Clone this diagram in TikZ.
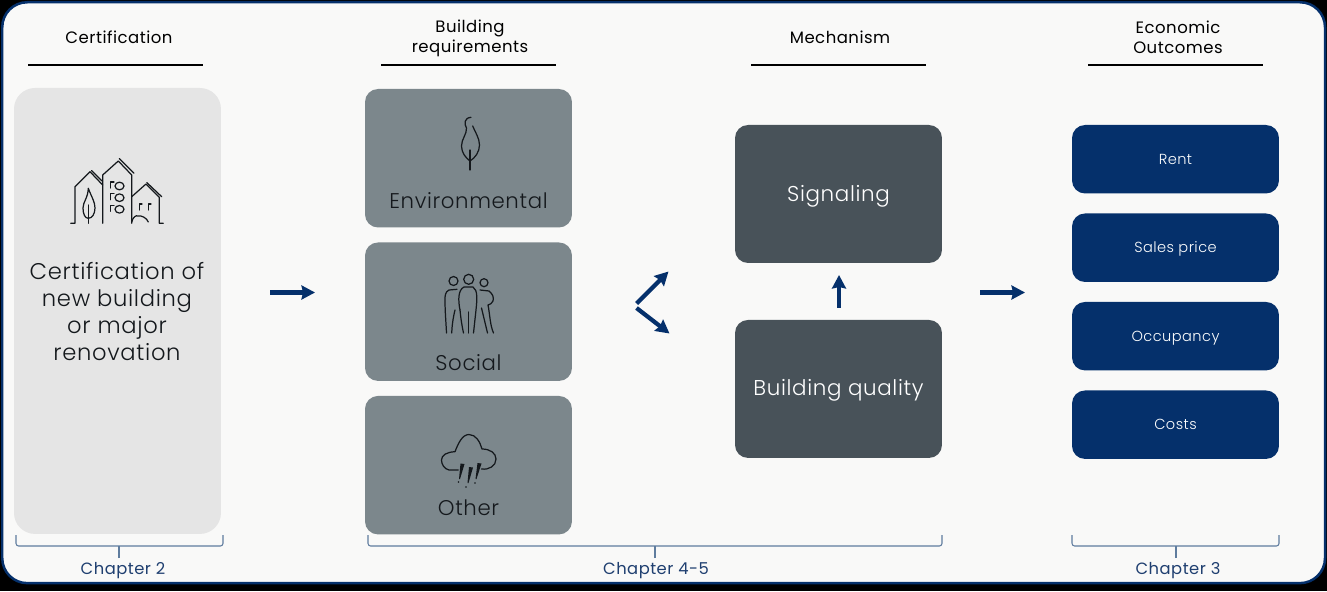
\documentclass[tikz,border=0pt]{standalone}
\usepackage{fontspec}
\setmainfont[UprightFont=* Light, LetterSpace=3]{Poppins}
\newfontfamily\headfont[LetterSpace=3]{Poppins}
\usetikzlibrary{
  arrows.meta,
  positioning,
  calc
}
\definecolor{panelwhite}{HTML}{F9F9F8}
\definecolor{certgray}{HTML}{E5E5E5}
\definecolor{reqgray}{HTML}{7C878C}
\definecolor{mechgray}{HTML}{485259}
\definecolor{navyblue}{HTML}{05306B}
\definecolor{bracketblue}{HTML}{5F7C9E}
\definecolor{chaptertext}{HTML}{1F3F70}
\definecolor{icontext}{HTML}{14181C}

\begin{document}
\begin{tikzpicture}[
    x=0.02cm, y=-0.02cm,
    box/.style={rectangle, rounded corners=0.26cm, minimum width=4.14cm, align=center, inner sep=0pt, outer sep=0pt},
    certblock/.style={box, fill=certgray, rounded corners=0.42cm, minimum height=8.92cm},
    reqblock/.style={box, fill=reqgray, minimum height=2.77cm},
    mechblock/.style={box, fill=mechgray, minimum height=2.76cm, text=white, font=\fontsize{12.2}{14}\selectfont, text height=8pt, text depth=0pt},
    outblock/.style={box, fill=navyblue, minimum height=1.37cm, text=white, font=\fontsize{8.3}{10}\selectfont, text height=5.6pt, text depth=0pt},
    reqlabel/.style={font=\fontsize{12.1}{14}\selectfont, text=icontext, inner sep=0pt},
    header/.style={font=\headfont\fontsize{9.4}{11.4}\selectfont, align=center, text=black, inner sep=0pt},
    headline/.style={black, line width=0.7pt},
    chapter/.style={font=\headfont\fontsize{9.3}{11}\selectfont, text=chaptertext, inner sep=0pt},
    bracket/.style={bracketblue, line width=0.6pt, rounded corners=1.5pt},
    myarrow/.style={-{Stealth[length=0.27cm, width=0.28cm, inset=0.03cm]}, navyblue, line width=0.085cm},
    icon/.style={icontext, line width=0.7pt, line cap=round, line join=round},
]

% --- Background ---
\fill[black] (0,0) rectangle (1327,591);
\node[draw=navyblue, fill=panelwhite, line width=0.05cm, rounded corners=0.5cm, minimum width=26.46cm, minimum height=11.62cm, inner sep=0pt, anchor=north west] (panel) at (1,1) {};

% --- Column 1: Certification ---
\node[certblock, anchor=north west] (cert) at (14,88) {};
\node[font=\fontsize{12.9}{15.3}\selectfont, align=center, text=icontext, inner sep=0pt] (certtext) at (117,311.5) {Certification of\\new building\\or major\\renovation};

% --- Column 2: Building requirements ---
\node[reqblock, anchor=north west] (env) at (365,89) {};
\node[reqblock, below=0.3cm of env] (social) {};
\node[reqblock, below=0.3cm of social] (other) {};
\node[reqlabel] (envtext) at ($(env.south)+(0,-26.5)$) {Environmental};
\node[reqlabel] (socialtext) at ($(social.south)+(0,-18.5)$) {Social};
\node[reqlabel] (othertext) at ($(other.south)+(0,-27)$) {Other};

% --- Column 3: Mechanism ---
\node[mechblock, anchor=north west] (signal) at (735,125) {Signaling};
\node[mechblock, below=1.14cm of signal] (quality) {Building quality};

% --- Column 4: Economic outcomes ---
\node[outblock, anchor=north west] (rent) at (1072,125) {Rent};
\node[outblock, below=0.4cm of rent] (sales) {Sales price};
\node[outblock, below=0.4cm of sales] (occup) {Occupancy};
\node[outblock, below=0.4cm of occup] (costs) {Costs};

% --- Headers ---
\node[header] (headcert) at (119,37.5) {Certification};
\node[header] (headreq) at (470,38.2) {Building\\requirements};
\node[header] (headmech) at (840,37.5) {Mechanism};
\node[header] (headecon) at (1178,37) {Economic\\Outcomes};
\draw[headline] (28,65) -- (203,65);
\draw[headline] (381,65) -- (556,65);
\draw[headline] (751,65) -- (926,65);
\draw[headline] (1088,65) -- (1263,65);

% --- Brackets and chapters ---
\node[chapter] (chap2) at (123,571) {Chapter 2};
\node[chapter] (chap45) at (656,571) {Chapter 4-5};
\node[chapter] (chap3) at (1178,571) {Chapter 3};
\draw[bracket] (16,535) -- (16,546) -- (223,546) -- (223,535);
\draw[bracket] (119,558) -- (119,546);
\draw[bracket] (368,535) -- (368,546) -- (942,546) -- (942,535);
\draw[bracket] (655,558) -- (655,546);
\draw[bracket] (1072,535) -- (1072,546) -- (1279,546) -- (1279,535);
\draw[bracket] (1176,558) -- (1176,546);

% --- Arrows ---
\coordinate (certout) at (270,292.5);
\coordinate (reqin) at (315,292.5);
\coordinate (forkup) at (636.5,303.5);
\coordinate (forkupend) at (668.5,271.5);
\coordinate (forkdown) at (636.5,308);
\coordinate (forkdownend) at (669.5,333.5);
\coordinate (qualityout) at (839,307.5);
\coordinate (signalin) at (839,275);
\coordinate (mechout) at (980,292.5);
\coordinate (econin) at (1025,292.5);
\draw[myarrow] (certout) -- (reqin);
\draw[myarrow] (forkup) -- (forkupend);
\draw[myarrow] (forkdown) -- (forkdownend);
\draw[myarrow] (qualityout) -- (signalin);
\draw[myarrow] (mechout) -- (econin);

% --- Icon: buildings ---
\draw[icon] (70.7,223.3) -- (75,223.3) -- (75,186.7) -- (90,171.7) -- (102.7,185);
\draw[icon] (91.5,170.5) -- (102,181);
\draw[icon] (102.7,223.3) -- (102.7,175) -- (118.3,161) -- (131.7,175) -- (131.7,223.3);
\draw[icon] (119.3,158.5) -- (134,173.3);
\draw[icon] (131.7,196.7) -- (146,184) -- (159.3,197.3) -- (159.3,223.3) -- (163.3,223.3);
\draw[icon] (146.7,182.5) -- (161.7,196.7);
\draw[icon] (88.3,223.3) -- (88.3,205);
\draw[icon] (88.3,188.3) .. controls (92,198) and (95,202) .. (95,208) .. controls (95,214) and (92,218.3) .. (88.3,218.3) .. controls (85,218.3) and (83,214) .. (83,208) .. controls (83,202) and (88,198) .. (88.3,188.3);
\foreach \wy in {186,197.7,209.3} {
  \draw[icon] (119.5,\wy) ellipse (4.5 and 3.8);
  \draw[icon] (110.7,\wy+2) -- (110.7,\wy-4) -- (114,\wy-4);
}
\draw[icon] (139.3,210) -- (139.3,204) -- (142,204);
\draw[icon] (148.3,210) -- (148.3,204) -- (151,204);
\draw[icon] (131.7,222) .. controls (133,217) and (136,215) .. (138,216) .. controls (141,215) and (147,218) .. (148.3,222);

% --- Icon: leaf ---
\draw[icon] (470,170) -- (470,150);
\draw[icon] (471,117.3) .. controls (464,118) and (464,124) .. (466.5,128) .. controls (467,134) and (461.5,139) .. (461.5,146) .. controls (461.5,153) and (466,158) .. (470,161) .. controls (475,158) and (479.5,152) .. (479.5,145) .. controls (479.5,138) and (475,132) .. (472.7,126);

% --- Icon: people ---
\draw[icon] (453.5,281) circle (4.5);
\draw[icon] (468.7,279.3) circle (5);
\draw[icon] (484,282.7) circle (4);
\draw[icon] (457,289.3) -- (449,290) .. controls (445,292) and (445,296) .. (445,300) .. controls (445,312) and (446,322) .. (446.5,333);
\draw[icon] (455,310) .. controls (453,318) and (452,326) .. (451.7,333);
\draw[icon] (460,310) .. controls (458,300) and (458,290) .. (464,287) -- (473,287) .. controls (478,290) and (477,300) .. (476,310) -- (473.5,333);
\draw[icon] (460,310) .. controls (461,320) and (462,326) .. (463.5,333);
\draw[icon] (468.3,312) -- (468.3,333);
\draw[icon] (480,290) -- (489,291) .. controls (493,294) and (494,298) .. (493,301) .. controls (492,304) and (490,304) .. (488,305) .. controls (490,315) and (490,325) .. (493.5,333);
\draw[icon] (481.5,308) -- (487.5,333);

% --- Icon: cloud ---
\draw[icon] (458.3,470) -- (449,470) .. controls (444,469) and (441.5,464) .. (441.5,460) .. controls (441.5,455) and (447,452) .. (455,451.7) .. controls (458,444) and (462,434.5) .. (469,434.5) .. controls (476,434.5) and (480,442) .. (482,449) .. controls (490,449) and (496,453) .. (496,459) .. controls (496,466) and (489,470) .. (481.5,469);
\fill[icontext] (460.5,463.5) -- (464.5,464) -- (460,479) -- (459,479) -- cycle;
\fill[icontext] (469,467) -- (473,467.5) -- (468.5,483) -- (467.5,483) -- cycle;
\fill[icontext] (477.5,463) -- (481.5,463.5) -- (476.5,479) -- (475.5,479) -- cycle;
\fill[icontext] (458.5,482) circle (0.9);
\fill[icontext] (466,487) circle (0.9);
\fill[icontext] (475,483) circle (0.9);

\end{tikzpicture}
\end{document}
